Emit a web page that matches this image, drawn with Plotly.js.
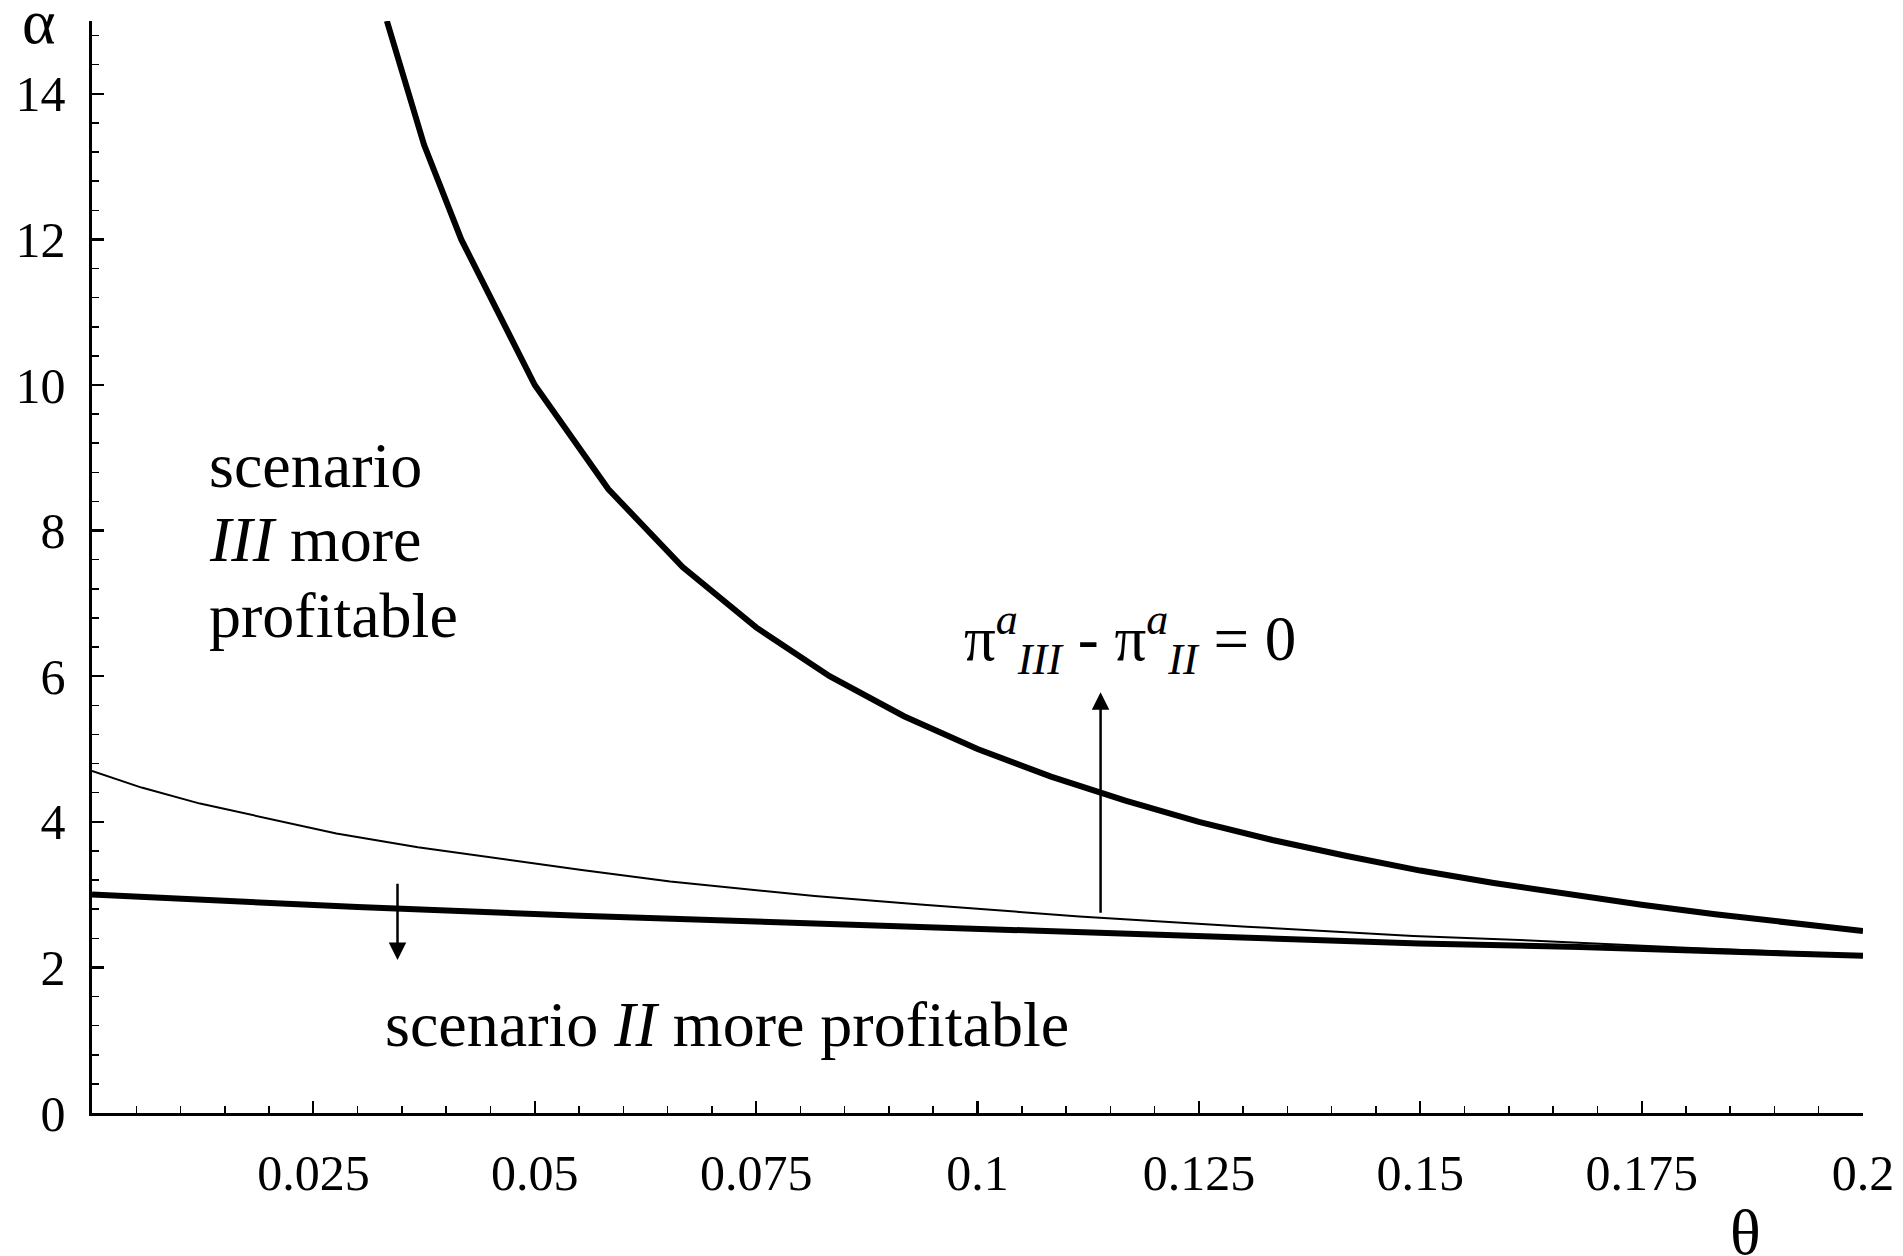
<!DOCTYPE html>
<html>
<head>
<meta charset="utf-8">
<script src="https://cdn.plot.ly/plotly-3.0.1.min.js"></script>
<style>html,body{margin:0;padding:0;background:#fff;}#chart{width:1903px;height:1256px;}</style>
</head>
<body>
<div id="chart"></div>
<script>
// Boundary curve pi^a_III - pi^a_II = 0 (thick, steep)
const thetaBoundary = [0.0333, 0.0375, 0.0417, 0.05, 0.0583, 0.0667, 0.075, 0.0833, 0.0917, 0.1, 0.1083, 0.1167, 0.125, 0.1333, 0.1417, 0.15, 0.1583, 0.1667, 0.175, 0.1833, 0.1917, 0.2];
const alphaBoundary = [15.0, 13.3, 12.0, 10.0, 8.57, 7.5, 6.67, 6.0, 5.45, 5.0, 4.62, 4.29, 4.0, 3.75, 3.53, 3.33, 3.16, 3.0, 2.86, 2.73, 2.61, 2.5];
// Thin curve
const thetaThin = [0, 0.0056, 0.0122, 0.0192, 0.0276, 0.0368, 0.0551, 0.0653, 0.0816, 0.0939, 0.1115, 0.1304, 0.1492, 0.1624, 0.18, 0.2];
const alphaThin = [4.70, 4.47, 4.25, 4.06, 3.84, 3.65, 3.34, 3.18, 2.98, 2.86, 2.70, 2.56, 2.43, 2.37, 2.27, 2.17];
// Lower thick curve
const thetaLower = [0, 0.008, 0.03, 0.0551, 0.0749, 0.0916, 0.1115, 0.1334, 0.1499, 0.168, 0.183, 0.2];
const alphaLower = [3.0, 2.95, 2.83, 2.71, 2.63, 2.55, 2.48, 2.40, 2.33, 2.28, 2.22, 2.16];

// Axis ticks
const xTickVals = [0.025, 0.05, 0.075, 0.1, 0.125, 0.15, 0.175, 0.2];
const xTickText = ["0.025", "0.05", "0.075", "0.1", "0.125", "0.15", "0.175", "0.2"];
const yTickVals = [0, 2, 4, 6, 8, 10, 12, 14];
const yTickText = ["0", "2", "4", "6", "8", "10", "12", "14"];

// Arrows: [theta, alpha tail, alpha tip]
const arrowDown = [0.0345, 3.17, 2.10];
const arrowUp = [0.1139, 2.73, 5.78];

const FONT = "Liberation Serif, Times New Roman, serif";

const traces = [
  {x: thetaThin, y: alphaThin, mode: "lines", line: {color: "#000", width: 2}, hoverinfo: "skip"},
  {x: thetaLower, y: alphaLower, mode: "lines", line: {color: "#000", width: 6}, hoverinfo: "skip"},
  {x: thetaBoundary, y: alphaBoundary, mode: "lines", line: {color: "#000", width: 6}, hoverinfo: "skip"}
];

function txt(text, x, y, size, xanchor, yanchor, extra) {
  return Object.assign({text: text, x: x, y: y, xref: "x", yref: "y", showarrow: false,
    xanchor: xanchor, yanchor: yanchor, font: {family: FONT, size: size, color: "#000"}}, extra || {});
}

const annotations = [
  txt("scenario", 0.0130, 8.89, 64, "left", "middle"),
  txt("<i>III</i> more", 0.0130, 7.88, 64, "left", "middle"),
  txt("profitable", 0.0130, 6.83, 64, "left", "middle"),
  txt("scenario <i>II</i> more profitable", 0.03285, 1.22, 64, "left", "middle"),
  txt("π<sup><i>a</i></sup><sub><i>III</i></sub> - π<sup><i>a</i></sup><sub><i>II</i></sub> = 0", 0.1172, 6.5, 63, "center", "middle"),
  {text: "α", x: -0.0302, y: 1.0, xref: "paper", yref: "paper", showarrow: false, xanchor: "center", yanchor: "middle", font: {family: FONT, size: 64, color: "#000"}},
  {text: "θ", x: 0.9334, y: -0.109, xref: "paper", yref: "paper", showarrow: false, xanchor: "center", yanchor: "middle", font: {family: FONT, size: 64, color: "#000"}},
  {text: "", x: arrowDown[0], y: arrowDown[2], ax: arrowDown[0], ay: arrowDown[1], xref: "x", yref: "y", axref: "x", ayref: "y",
   showarrow: true, arrowhead: 2, arrowsize: 1.4, arrowwidth: 2.5, arrowcolor: "#000", standoff: 0},
  {text: "", x: arrowUp[0], y: arrowUp[2], ax: arrowUp[0], ay: arrowUp[1], xref: "x", yref: "y", axref: "x", ayref: "y",
   showarrow: true, arrowhead: 2, arrowsize: 1.4, arrowwidth: 2.5, arrowcolor: "#000", standoff: 0}
];

const layout = {
  width: 1903, height: 1256,
  margin: {l: 92, r: 40, t: 21, b: 143, pad: 0},
  paper_bgcolor: "#fff", plot_bgcolor: "#fff",
  showlegend: false,
  font: {family: FONT, color: "#000"},
  xaxis: {
    range: [0, 0.2], showgrid: false, zeroline: false,
    showline: true, linecolor: "#000", linewidth: 2.6,
    tickmode: "array", tickvals: xTickVals, ticktext: xTickText,
    ticks: "inside", ticklen: 12, tickwidth: 2.2, tickcolor: "#000",
    tickfont: {family: FONT, size: 50, color: "#000"},
    ticklabelstandoff: 14,
    minor: {tickmode: "linear", tick0: 0, dtick: 0.005, ticks: "inside", ticklen: 7, tickwidth: 1.5, tickcolor: "#000", showgrid: false}
  },
  yaxis: {
    range: [0, 15], showgrid: false, zeroline: false,
    showline: true, linecolor: "#000", linewidth: 2.6,
    tickmode: "array", tickvals: yTickVals, ticktext: yTickText,
    ticks: "inside", ticklen: 12, tickwidth: 2.2, tickcolor: "#000",
    tickfont: {family: FONT, size: 50, color: "#000"},
    ticklabelstandoff: 14,
    minor: {tickmode: "linear", tick0: 0, dtick: 0.4, ticks: "inside", ticklen: 7, tickwidth: 1.5, tickcolor: "#000", showgrid: false}
  },
  annotations: annotations
};

Plotly.newPlot("chart", traces, layout, {displayModeBar: false, staticPlot: true});
</script>
</body>
</html>
